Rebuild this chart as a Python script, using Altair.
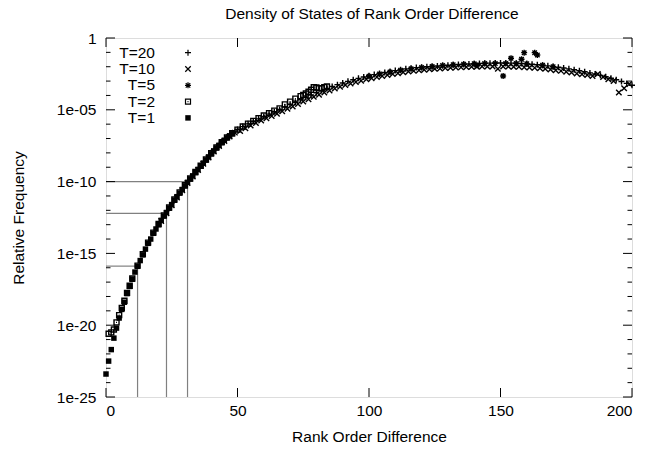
import altair as alt
import pandas as pd

FONT = "Liberation Sans"
W, H = 526, 359

TITLE = "Density of States of Rank Order Difference"

# ---- data (log10 of relative frequency) ----
T1_x = list(range(0, 49))
T1_ly = [-23.4, -22.5, -21.7, -20.9, -20.2, -19.5, -18.9, -18.4, -17.8, -17.3,
         -16.8, -16.3, -15.9, -15.5, -15.1, -14.7, -14.3, -14.0, -13.6, -13.3,
         -13.0, -12.7, -12.4, -12.15, -11.85, -11.6, -11.3, -11.05, -10.8, -10.55,
         -10.3, -10.05, -9.82, -9.6, -9.37, -9.15, -8.93, -8.71, -8.5, -8.28,
         -8.07, -7.86, -7.66, -7.47, -7.29, -7.12, -6.96, -6.81, -6.67]

T2_x = [1, 2, 3, 4, 5, 6, 7, 8, 9, 10,
        12, 14, 16, 18, 20, 22, 24, 26, 28, 30,
        32, 34, 36, 38, 40, 42, 44, 46, 48, 50,
        52, 54, 56, 58, 60, 62, 64, 66, 68, 70,
        72, 74, 75, 76, 77, 78, 79, 80, 81, 82, 83, 84]
T2_ly = [-20.6, -20.5, -20.3, -19.8, -19.3, -18.8, -18.3, -17.75, -17.25, -16.75,
         -15.85, -15.05, -14.25, -13.55, -12.95, -12.35, -11.8, -11.25, -10.75, -10.25,
         -9.78, -9.33, -8.9, -8.46, -8.03, -7.62, -7.25, -6.92, -6.63, -6.38,
         -6.16, -5.96, -5.77, -5.58, -5.4, -5.23, -5.06, -4.9, -4.62, -4.43,
         -4.22, -4.05, -3.97, -3.86, -3.74, -3.6, -3.43, -3.45, -3.5, -3.5, -3.42, -3.38]

T5_x = [100, 104, 108, 112, 116, 120, 124, 128, 132, 136, 140, 141, 144, 148,
        151, 152, 154, 156, 158, 159, 160, 163, 164, 166, 170]
T5_ly = [-2.66, -2.5, -2.36, -2.24, -2.14, -2.05, -1.98, -1.92, -1.87, -1.83, -1.8, -1.9, -1.78, -1.77,
         -2.65, -1.77, -1.41, -1.78, -1.48, -1.02, -1.8, -1.02, -1.18, -1.9, -2.0]

T10_x = list(range(21, 200, 2))
T10_ly = [-12.75, -12.2, -11.65, -11.1, -10.6, -10.1, -9.65, -9.2, -8.76, -8.33,
          -7.91, -7.52, -7.17, -6.86, -6.59, -6.48, -6.29, -6.1, -5.92, -5.75,
          -5.59, -5.43, -5.27, -5.1, -4.93, -4.77, -4.6, -4.42, -4.26, -4.1,
          -3.95, -3.79, -3.65, -3.52, -3.4, -3.28, -3.17, -3.07, -2.97, -2.88,
          -2.8, -2.72, -2.64, -2.57, -2.51, -2.45, -2.39, -2.34, -2.29, -2.25,
          -2.21, -2.18, -2.15, -2.12, -2.09, -2.07, -2.05, -2.03, -2.02, -2.01,
          -2.0, -1.99, -1.98, -1.98, -2.15, -1.98, -1.99, -2.0, -2.01, -2.03,
          -2.05, -2.08, -2.11, -2.15, -2.19, -2.24, -2.29, -2.35, -2.41, -2.48,
          -2.52, -2.58, -2.64, -2.5, -2.72, -2.88, -3.0, -3.8, -3.5, -3.2]

T20_x = list(range(40, 201, 2))
T20_ly = [-8.0, -7.6, -7.25, -6.92, -6.62, -6.37, -6.17, -5.98, -5.8, -5.63,
          -5.46, -5.3, -5.14, -4.98, -4.81, -4.64, -4.47, -4.3, -4.13, -3.97,
          -3.81, -3.66, -3.52, -3.38, -3.25, -3.13, -3.02, -2.91, -2.81, -2.72,
          -2.63, -2.55, -2.47, -2.4, -2.33, -2.27, -2.21, -2.15, -2.1, -2.06,
          -2.03, -2.0, -1.98, -1.95, -1.92, -1.9, -1.87, -1.85, -1.83, -1.81,
          -1.79, -1.77, -1.76, -1.75, -1.74, -1.74, -1.74, -1.75, -1.76, -1.78,
          -1.8, -1.83, -1.86, -1.9, -1.94, -1.99, -2.04, -2.09, -2.15, -2.21,
          -2.28, -2.35, -2.43, -2.51, -2.6, -2.7, -2.8, -2.91, -3.03, -3.16,
          -3.29]

# guide lines
guide_x = [12, 23, 31]
guide_y = [1.3e-16, 6.2e-13, 1.0e-10]

x_ticks = [0, 50, 100, 150, 200]
y_major = [1e-25, 1e-20, 1e-15, 1e-10, 1e-05, 1]
y_minor = [10.0 ** -k for k in range(1, 25) if k % 5 != 0]

legend_labels = ["T=20", "T=10", "T=5", "T=2", "T=1"]

# ---- helpers ----
def frame(xs, lys):
    assert len(xs) == len(lys), (len(xs), len(lys))
    return pd.DataFrame({"x": xs, "y": [10.0 ** v for v in lys]})

xscale = alt.Scale(domain=[0, 200], nice=False, zero=False)
yscale = alt.Scale(type="log", domain=[1e-25, 1], nice=False)

xaxis = alt.Axis(values=x_ticks, format="d", title="Rank Order Difference",
                 grid=False, domain=False, ticks=False, tickSize=0,
                 labelPadding=6, titlePadding=11, labelFont=FONT, titleFont=FONT,
                 labelFontSize=15.5, titleFontSize=15.5, titleFontWeight="normal",
                 labelColor="black", titleColor="black")
yaxis = alt.Axis(values=y_major, title="Relative Frequency",
                 labelExpr="datum.value >= 1 ? '1' : '1e-' + (round(-log(datum.value)/LN10) < 10 ? '0' : '') + round(-log(datum.value)/LN10)",
                 grid=False, domain=False, ticks=False, tickSize=0,
                 labelPadding=10, titlePadding=30, labelFont=FONT, titleFont=FONT,
                 labelFontSize=15.5, titleFontSize=15.5, titleFontWeight="normal",
                 labelColor="black", titleColor="black")

def X(f="x"):
    return alt.X(f"{f}:Q", scale=xscale, axis=xaxis)

def Y(f="y"):
    return alt.Y(f"{f}:Q", scale=yscale, axis=yaxis)

PLUS = "M-1,0L1,0M0,-1L0,1"
CROSS = "M-1,-1L1,1M-1,1L1,-1"
STAR = "M-1,0L1,0M0,-1L0,1M-0.75,-0.75L0.75,0.75M-0.75,0.75L0.75,-0.75"
BOX = "M-1,-1L1,-1L1,1L-1,1ZM-0.2,0L0.2,0"
SQ = "square"

styles = {
    "T=20": dict(shape=PLUS, filled=False, size=36),
    "T=10": dict(shape=CROSS, filled=False, size=30),
    "T=5": dict(shape=STAR, filled=False, size=36),
    "T=2": dict(shape=BOX, filled=False, size=25),
    "T=1": dict(shape=SQ, filled=True, size=30),
}

def pts(df, label):
    st = styles[label]
    return alt.Chart(df).mark_point(shape=st["shape"], filled=st["filled"], size=st["size"],
                                    color="black", strokeWidth=1.4, opacity=1).encode(x=X(), y=Y())

layers = []

# guide lines (behind data)
gdf = pd.DataFrame({"x": guide_x, "y": guide_y})
layers.append(alt.Chart(gdf).mark_rule(color="#808080", strokeWidth=1.2).encode(
    x=X(), y=Y(), y2=alt.value(H)))
layers.append(alt.Chart(gdf).mark_rule(color="#808080", strokeWidth=1.2).encode(
    x=X(), x2=alt.value(0), y=Y()))

# data series
layers.append(pts(frame(T20_x, T20_ly), "T=20"))
layers.append(pts(frame(T10_x, T10_ly), "T=10"))
layers.append(pts(frame(T5_x, T5_ly), "T=5"))
layers.append(pts(frame(T2_x, T2_ly), "T=2"))
layers.append(pts(frame(T1_x, T1_ly), "T=1"))

# inward ticks (gnuplot style, mirrored)
xt = pd.DataFrame({"x": x_ticks})
layers.append(alt.Chart(xt).mark_rule(color="black", strokeWidth=1).encode(
    x=X(), y=alt.value(H), y2=alt.value(H - 9)))
layers.append(alt.Chart(xt).mark_rule(color="black", strokeWidth=1).encode(
    x=X(), y=alt.value(0), y2=alt.value(9)))
ymj = pd.DataFrame({"y": y_major})
ymn = pd.DataFrame({"y": y_minor})
for df, ln in ((ymj, 9), (ymn, 4.5)):
    layers.append(alt.Chart(df).mark_rule(color="black", strokeWidth=1).encode(
        y=Y(), x=alt.value(0), x2=alt.value(ln)))
    layers.append(alt.Chart(df).mark_rule(color="black", strokeWidth=1).encode(
        y=Y(), x=alt.value(W), x2=alt.value(W - ln)))

# key (top-left, gnuplot layout: label then sample)
for i, lbl in enumerate(legend_labels):
    ldf = pd.DataFrame({"label": [lbl]})
    yy = 14.7 + 16.3 * i
    layers.append(alt.Chart(ldf).mark_text(align="right", baseline="middle", font=FONT,
                                           fontSize=15.5, color="black").encode(
        x=alt.value(49), y=alt.value(yy), text="label:N"))
    st = styles[lbl]
    layers.append(alt.Chart(ldf).mark_point(shape=st["shape"], filled=st["filled"], size=st["size"],
                                            color="black", strokeWidth=1.2, opacity=1).encode(
        x=alt.value(82), y=alt.value(yy)))

# chart title drawn as text above the plot frame
tdf = pd.DataFrame({"title": [TITLE]})
layers.append(alt.Chart(tdf).mark_text(align="center", baseline="alphabetic", font=FONT,
                                       fontSize=15.5, color="black").encode(
    x=alt.value(W / 2 + 3), y=alt.value(-19), text="title:N"))

chart = alt.layer(*layers).properties(
    width=W, height=H,
    autosize=alt.AutoSizeParams(type="none"),
    padding={"left": 98, "top": 30, "right": 10, "bottom": 50},
).configure_view(stroke="black", strokeWidth=1).configure(background="white")

chart.save("out.html", embed_options={"renderer": "svg", "actions": False})
